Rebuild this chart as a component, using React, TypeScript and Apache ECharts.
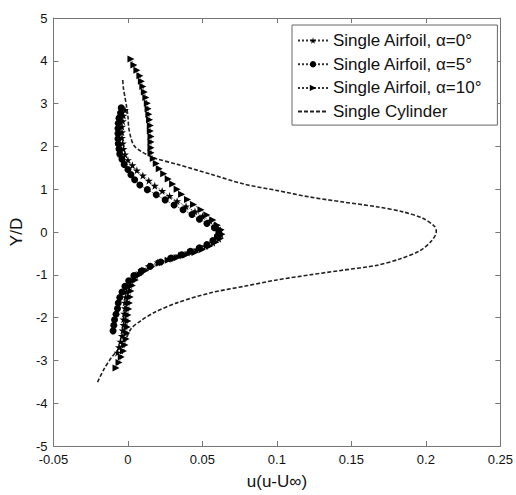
import React, { useEffect, useRef } from "react";
import * as echarts from "echarts";

// Wake profiles: [u(u-U∞), Y/D] pairs, listed from the top of the wake to the bottom
const airfoil0: [number, number][] = [
  [-0.002, 2.85], [-0.003, 2.72], [-0.0035, 2.59], [-0.004, 2.46], [-0.004, 2.33], [-0.004, 2.2],
  [-0.0035, 2.07], [-0.003, 1.94], [-0.002, 1.81], [0.0, 1.68], [0.003, 1.56], [0.006, 1.44],
  [0.01, 1.32], [0.014, 1.2], [0.018, 1.08], [0.023, 0.96], [0.028, 0.84], [0.033, 0.72],
  [0.039, 0.6], [0.045, 0.48], [0.05, 0.37], [0.055, 0.26], [0.059, 0.15], [0.062, 0.04],
  [0.0625, -0.06], [0.061, -0.16], [0.057, -0.25], [0.052, -0.33], [0.046, -0.41], [0.04, -0.48],
  [0.034, -0.55], [0.027, -0.63], [0.02, -0.71], [0.014, -0.8], [0.009, -0.9], [0.005, -1.01],
  [0.002, -1.13], [0.0, -1.26], [-0.001, -1.39], [-0.0015, -1.52], [-0.002, -1.65], [-0.002, -1.78],
  [-0.0025, -1.91], [-0.003, -2.04], [-0.003, -2.17], [-0.0035, -2.3], [-0.004, -2.43],
  [-0.005, -2.56], [-0.006, -2.69], [-0.007, -2.82],
];

const airfoil5: [number, number][] = [
  [-0.0045, 2.9], [-0.005, 2.78], [-0.006, 2.66], [-0.0065, 2.54], [-0.0067, 2.42], [-0.0067, 2.3],
  [-0.0067, 2.18], [-0.0065, 2.06], [-0.006, 1.94], [-0.0055, 1.82], [-0.004, 1.7], [-0.0025, 1.58],
  [0.0, 1.46], [0.002, 1.34], [0.0045, 1.22], [0.008, 1.1], [0.013, 0.99], [0.019, 0.87],
  [0.025, 0.75], [0.031, 0.63], [0.037, 0.52], [0.043, 0.41], [0.048, 0.3], [0.053, 0.2],
  [0.058, 0.1], [0.061, 0.0], [0.06, -0.1], [0.057, -0.2], [0.053, -0.29], [0.048, -0.37],
  [0.042, -0.45], [0.036, -0.53], [0.029, -0.61], [0.022, -0.7], [0.015, -0.8], [0.009, -0.91],
  [0.004, -1.02], [0.0005, -1.14], [-0.002, -1.27], [-0.004, -1.4], [-0.0055, -1.53],
  [-0.0065, -1.66], [-0.007, -1.79], [-0.008, -1.92], [-0.009, -2.05], [-0.0095, -2.18],
  [-0.01, -2.31],
];

const airfoil10: [number, number][] = [
  [0.002, 4.04], [0.004, 3.9], [0.006, 3.78], [0.008, 3.65], [0.009, 3.52], [0.01, 3.4],
  [0.011, 3.27], [0.012, 3.14], [0.013, 3.01], [0.0135, 2.88], [0.014, 2.75], [0.0145, 2.62],
  [0.015, 2.49], [0.015, 2.36], [0.0155, 2.23], [0.0155, 2.1], [0.0155, 1.97], [0.0155, 1.85],
  [0.017, 1.72], [0.019, 1.6], [0.021, 1.48], [0.024, 1.36], [0.027, 1.24], [0.03, 1.12],
  [0.033, 1.0], [0.036, 0.88], [0.04, 0.76], [0.044, 0.64], [0.049, 0.52], [0.053, 0.4],
  [0.057, 0.28], [0.06, 0.16], [0.0625, 0.05], [0.063, -0.05], [0.062, -0.15], [0.059, -0.24],
  [0.055, -0.33], [0.05, -0.41], [0.045, -0.48], [0.039, -0.54], [0.033, -0.6], [0.027, -0.66],
  [0.021, -0.73], [0.016, -0.81], [0.012, -0.9], [0.008, -1.0], [0.005, -1.12], [0.003, -1.25],
  [0.002, -1.38], [0.0015, -1.52], [0.001, -1.66], [0.0005, -1.8], [0.0, -1.94], [0.0, -2.08],
  [-0.0005, -2.22], [-0.0008, -2.36], [-0.0012, -2.5], [-0.002, -2.64], [-0.003, -2.78],
  [-0.0045, -2.92], [-0.006, -3.05], [-0.008, -3.18],
];

const cylinder: [number, number][] = [
  [-0.0035, 3.55], [-0.003, 3.35], [-0.002, 3.15], [-0.001, 2.95], [0.0, 2.7], [0.0005, 2.45],
  [0.002, 2.2], [0.004, 2.02], [0.009, 1.88], [0.0177, 1.73], [0.0333, 1.58], [0.0556, 1.35],
  [0.0778, 1.12], [0.1, 0.97], [0.1224, 0.815], [0.1446, 0.7], [0.1669, 0.59], [0.1847, 0.47],
  [0.198, 0.32], [0.2059, 0.13], [0.207, 0.0], [0.2037, -0.21], [0.1959, -0.44], [0.1825, -0.63],
  [0.1669, -0.78], [0.1446, -0.89], [0.1224, -1.0], [0.1, -1.12], [0.0778, -1.27], [0.0556, -1.42],
  [0.0333, -1.65], [0.0177, -1.88], [0.0088, -2.07], [0.0021, -2.26], [-0.0023, -2.56],
  [-0.0112, -2.94], [-0.016, -3.2], [-0.021, -3.55],
];

const seriesNames = [
  "Single Airfoil, α=0°",
  "Single Airfoil, α=5°",
  "Single Airfoil, α=10°",
  "Single Cylinder",
];

const xRange = { min: -0.05, max: 0.25, interval: 0.05 };
const yRange = { min: -5, max: 5, interval: 1 };

const STAR =
  "path://M50,0 L61,35 L98,35 L68,57 L79,91 L50,70 L21,91 L32,57 L2,35 L39,35 Z";

const FONT = "'Liberation Sans', Arial, Helvetica, sans-serif";
const INK = "#111";
const FRAME = "#777";

export default function App() {
  const ref = useRef<HTMLDivElement>(null);

  useEffect(() => {
    if (!ref.current) return;
    const chart = echarts.init(ref.current, undefined, { renderer: "svg" });

    const frameAxis = {
      axisLine: { show: true, onZero: false, lineStyle: { color: FRAME, width: 1 } },
      axisTick: { show: true, inside: true, length: 5, lineStyle: { color: FRAME } },
      splitLine: { show: false },
    };

    const markerSeries = (name: string, data: [number, number][], symbol: string, size: number, rotate = 0) => ({
      name,
      type: "line",
      data,
      symbol,
      symbolSize: size,
      symbolRotate: rotate,
      showAllSymbol: true,
      smooth: false,
      lineStyle: { type: "dotted", width: 1, color: "#333" },
      itemStyle: { color: "#000", borderWidth: 0 },
      z: 3,
    });

    chart.setOption({
      animation: false,
      backgroundColor: "#fff",
      textStyle: { fontFamily: FONT },
      grid: { left: 52, right: 15, top: 18, bottom: 38, containLabel: false },
      xAxis: [
        {
          type: "value",
          ...xRange,
          ...frameAxis,
          position: "bottom",
          name: "u(u-U∞)",
          nameLocation: "middle",
          nameGap: 27,
          nameTextStyle: { fontSize: 17, color: INK, fontFamily: FONT },
          axisLabel: { fontSize: 13, color: INK, margin: 7, showMinLabel: true, showMaxLabel: true, fontFamily: FONT },
        },
        {
          type: "value",
          ...xRange,
          ...frameAxis,
          position: "top",
          axisLabel: { show: false },
        },
      ],
      yAxis: [
        {
          type: "value",
          ...yRange,
          ...frameAxis,
          position: "left",
          name: "Y/D",
          nameLocation: "middle",
          nameGap: 22,
          nameTextStyle: { fontSize: 17, color: INK, fontFamily: FONT },
          axisLabel: { fontSize: 13, color: INK, margin: 6, showMinLabel: true, showMaxLabel: true, fontFamily: FONT },
        },
        {
          type: "value",
          ...yRange,
          ...frameAxis,
          position: "right",
          axisLabel: { show: false },
        },
      ],
      legend: {
        orient: "vertical",
        left: 292,
        top: 25,
        padding: [7, 15, 5, 5],
        itemWidth: 30,
        itemHeight: 8,
        itemGap: 6.7,
        backgroundColor: "#fff",
        borderColor: "#666",
        borderWidth: 1,
        borderRadius: 0,
        textStyle: { fontSize: 17, color: INK, lineHeight: 16, fontFamily: FONT },
        data: [
          seriesNames[0],
          seriesNames[1],
          seriesNames[2],
          { name: seriesNames[3], itemStyle: { opacity: 0 } },
        ],
      },
      series: [
        markerSeries(seriesNames[0], airfoil0, STAR, 8),
        markerSeries(seriesNames[1], airfoil5, "circle", 7),
        markerSeries(seriesNames[2], airfoil10, "triangle", 7, -90),
        {
          name: seriesNames[3],
          type: "line",
          data: cylinder,
          symbol: "none",
          smooth: 0.3,
          lineStyle: { type: [4, 2], width: 1.6, color: "#222" },
          itemStyle: { color: "rgba(0,0,0,0)" },
          z: 2,
        },
      ],
    });

    return () => chart.dispose();
  }, []);

  return (
    <div
      ref={ref}
      style={{ position: "fixed", left: 0, top: 0, width: 516, height: 495, background: "#fff" }}
    />
  );
}
